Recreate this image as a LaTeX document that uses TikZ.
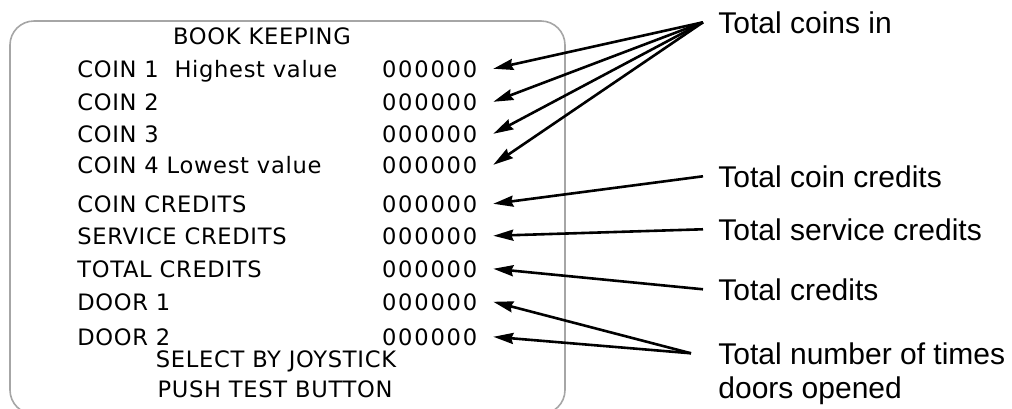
\documentclass[tikz,border=0pt]{standalone}
\usepackage{fontspec}
\usetikzlibrary{arrows.meta}
\newfontfamily\screenfont[LetterSpace=3]{DejaVu Sans}
\newfontfamily\digitfont[LetterSpace=8]{DejaVu Sans}
\newfontfamily\notefont{Liberation Sans}
\tikzset{
  screen/.style={gray!70, line width=0.8pt, rounded corners=12pt},
  row/.style={anchor=base west, inner sep=0pt, font=\screenfont\fontsize{11.3}{13}\selectfont},
  val/.style={anchor=base west, inner sep=0pt, outer xsep=8pt, font=\digitfont\fontsize{11.3}{13}\selectfont},
  note/.style={anchor=base west, inner ysep=0pt, inner xsep=7.5pt, font=\notefont\fontsize{15}{18}\selectfont},
  callout/.style={draw, line width=1.3pt, -{Stealth[length=10pt,width=5.5pt,inset=1pt]}},
}
\begin{document}
\begin{tikzpicture}[x=0.5pt,y=-0.5pt]
\useasboundingbox (0,0) rectangle (1012,408);
\clip (0,0) rectangle (1012,408);
\draw[screen] (10,21) rectangle (565,414);

% screen texts
\node[row,anchor=base] (title) at (262,44) {BOOK KEEPING};
\node[row] (c1) at (77,77) {COIN 1\ \ Highest value};
\node[row] (c2) at (77,110) {COIN 2};
\node[row] (c3) at (77,142) {COIN 3};
\node[row] (c4) at (77,173) {COIN 4\ Lowest value};
\node[row] (cc) at (77,212) {COIN CREDITS};
\node[row] (sc) at (77,244) {SERVICE CREDITS};
\node[row] (tc) at (77,277) {TOTAL CREDITS};
\node[row] (d1) at (77,310) {DOOR 1};
\node[row] (d2) at (77,345) {DOOR 2};
\node[row,anchor=base] (sel) at (276,367) {SELECT BY JOYSTICK};
\node[row,anchor=base] (push) at (275,397) {PUSH TEST BUTTON};

\node[val] (v1) at (366,77) {000000};
\node[val] (v2) at (366,110) {000000};
\node[val] (v3) at (366,142) {000000};
\node[val] (v4) at (366,173) {000000};
\node[val] (v5) at (366,212) {000000};
\node[val] (v6) at (366,244) {000000};
\node[val] (v7) at (366,277) {000000};
\node[val] (v8) at (366,310) {000000};
\node[val] (v9) at (366,345) {000000};

% notes
\node[note] (nci) at (703,33) {Total coins in};
\node[note] (ncc) at (703,187) {Total coin credits};
\node[note] (nsc) at (703,240) {Total service credits};
\node[note] (ntc) at (703,300) {Total credits};
\node[note] (ndo) at (703,364) {Total number of times};
\node[note] (ndo2) at (703,398) {doors opened};

\path[callout] (nci.west) -- (v1.east);
\path[callout] (nci.west) -- (v2.east);
\path[callout] (nci.west) -- (v3.east);
\path[callout] (nci.west) -- (v4.east);
\path[callout] (ncc.west) -- (v5.east);
\path[callout] (nsc.west) -- (v6.east);
\path[callout] (ntc.west) -- (v7.east);
\path[callout] ([xshift=-6pt]ndo.west) -- (v8.east);
\path[callout] ([xshift=-6pt]ndo.west) -- (v9.east);
\end{tikzpicture}
\end{document}
